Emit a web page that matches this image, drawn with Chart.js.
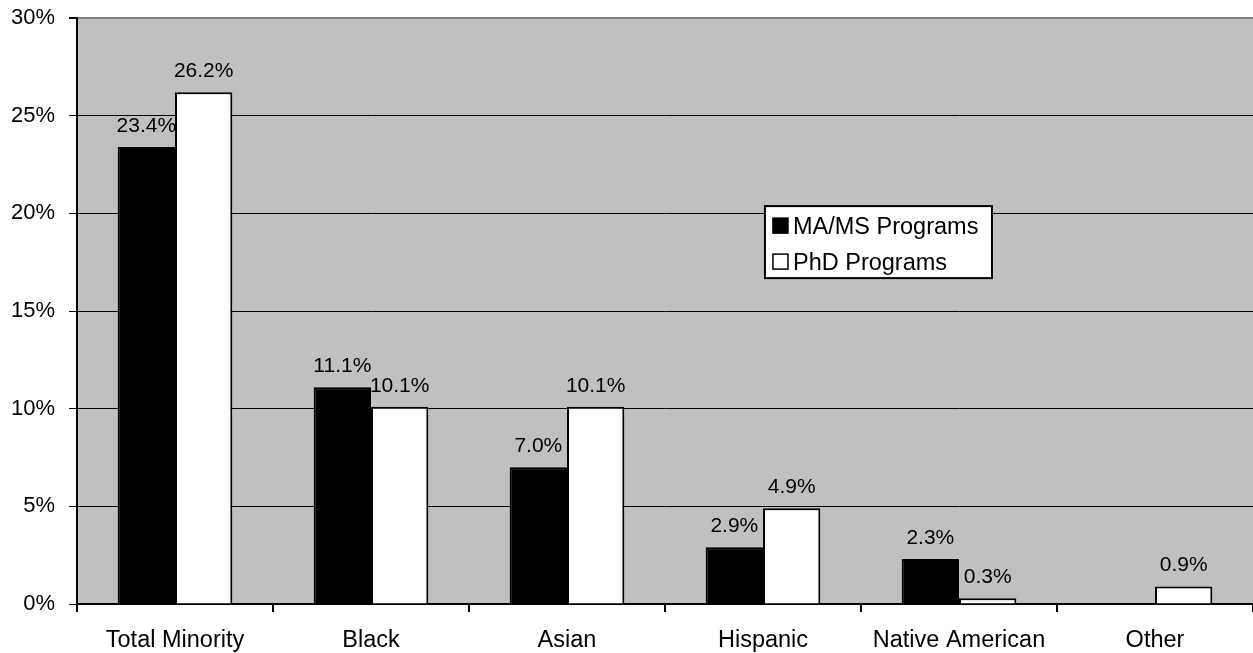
<!DOCTYPE html>
<html>
<head>
<meta charset="utf-8">
<script src="https://cdn.jsdelivr.net/npm/chart.js@4/dist/chart.umd.min.js"></script>
<style>
html,body{margin:0;padding:0;background:#fff;}
#wrap{width:1253px;height:653px;}
</style>
</head>
<body>
<div id="wrap"><canvas id="c" width="1253" height="653"></canvas></div>
<script>
const categories = ["Total Minority", "Black", "Asian", "Hispanic", "Native American", "Other"];
const maMsValues = [23.4, 11.1, 7.0, 2.9, 2.3, null];
const phdValues = [26.2, 10.1, 10.1, 4.9, 0.3, 0.9];
const seriesNames = ["MA/MS Programs", "PhD Programs"];
const yTicks = [0, 5, 10, 15, 20, 25, 30];

const FONT = "'Liberation Sans', Arial, sans-serif";

const bgPlugin = {
  id: 'bg',
  beforeDraw(chart) {
    const {ctx, chartArea: a} = chart;
    ctx.save();
    ctx.fillStyle = '#C0C0C0';
    ctx.fillRect(a.left, a.top, a.right - a.left, a.bottom - a.top);
    ctx.restore();
  }
};

const labelPlugin = {
  id: 'vals',
  afterDatasetsDraw(chart) {
    const ctx = chart.ctx;
    ctx.save();
    ctx.font = '21px ' + FONT;
    ctx.fillStyle = '#000';
    ctx.textAlign = 'center';
    ctx.textBaseline = 'middle';
    chart.data.datasets.forEach((ds, di) => {
      const meta = chart.getDatasetMeta(di);
      meta.data.forEach((bar, i) => {
        const v = ds.data[i];
        if (v === null || v === undefined) return;
        ctx.fillText(v.toFixed(1) + '%', bar.x, bar.y - 21);
      });
    });
    ctx.restore();
  }
};

const legendPlugin = {
  id: 'boxLegend',
  afterDraw(chart) {
    const {ctx, chartArea: a} = chart;
    const w = a.right - a.left, h = a.bottom - a.top;
    const x = a.left + w * 0.585, y = a.top + h * 0.321;
    const bw = 227, bh = 72;
    ctx.save();
    ctx.fillStyle = '#fff';
    ctx.fillRect(x, y, bw, bh);
    ctx.strokeStyle = '#000';
    ctx.lineWidth = 2;
    ctx.strokeRect(x, y, bw, bh);
    ctx.font = '23.5px ' + FONT;
    ctx.textBaseline = 'middle';
    ctx.textAlign = 'left';
    const fills = ['#000', '#fff'];
    seriesNames.forEach((name, i) => {
      const cy = y + 20 + i * 36;
      ctx.fillStyle = fills[i];
      ctx.fillRect(x + 8, cy - 8, 15, 15);
      ctx.lineWidth = 1.5;
      ctx.strokeStyle = '#000';
      ctx.strokeRect(x + 8, cy - 8, 15, 15);
      ctx.fillStyle = '#000';
      ctx.fillText(name, x + 28, cy + 1);
    });
    ctx.restore();
  }
};

new Chart(document.getElementById('c'), {
  type: 'bar',
  data: {
    labels: categories,
    datasets: [
      { label: seriesNames[0], data: maMsValues, backgroundColor: '#000', borderColor: '#000', borderWidth: 2, barPercentage: 1.0, categoryPercentage: 0.585 },
      { label: seriesNames[1], data: phdValues, backgroundColor: '#fff', borderColor: '#000', borderWidth: 2, barPercentage: 1.0, categoryPercentage: 0.585 }
    ]
  },
  options: {
    responsive: false,
    animation: false,
    devicePixelRatio: 1,
    layout: { padding: { top: 18, right: 0, left: 0, bottom: 0 } },
    plugins: { legend: { display: false }, tooltip: { enabled: false } },
    scales: {
      x: {
        grid: { display: true, drawOnChartArea: false, drawTicks: true, tickLength: 8, color: '#000', offset: true, lineWidth: 2 },
        border: { color: '#000', width: 2 },
        ticks: { color: '#000', font: { family: FONT, size: 23.5 }, padding: 14, maxRotation: 0 },
        afterFit(s) { s.height = 49; s.paddingLeft = 0; s.paddingRight = 0; }
      },
      y: {
        min: 0, max: 30,
        afterBuildTicks(s) { s.ticks = yTicks.map(v => ({value: v})); },
        grid: {
          color: ctx => (ctx.tick && ctx.tick.value === 30) ? '#808080' : '#000',
          lineWidth: ctx => (ctx.tick && ctx.tick.value === 30) ? 2 : 1,
          tickLength: 8,
          tickColor: '#000'
        },
        border: { color: '#000', width: 2 },
        ticks: { color: '#000', font: { family: FONT, size: 22 }, padding: 14, callback: v => v + '%' },
        afterFit(s) { s.width = 77; s.paddingTop = 0; s.paddingBottom = 0; }
      }
    }
  },
  plugins: [bgPlugin, labelPlugin, legendPlugin]
});
</script>
</body>
</html>
